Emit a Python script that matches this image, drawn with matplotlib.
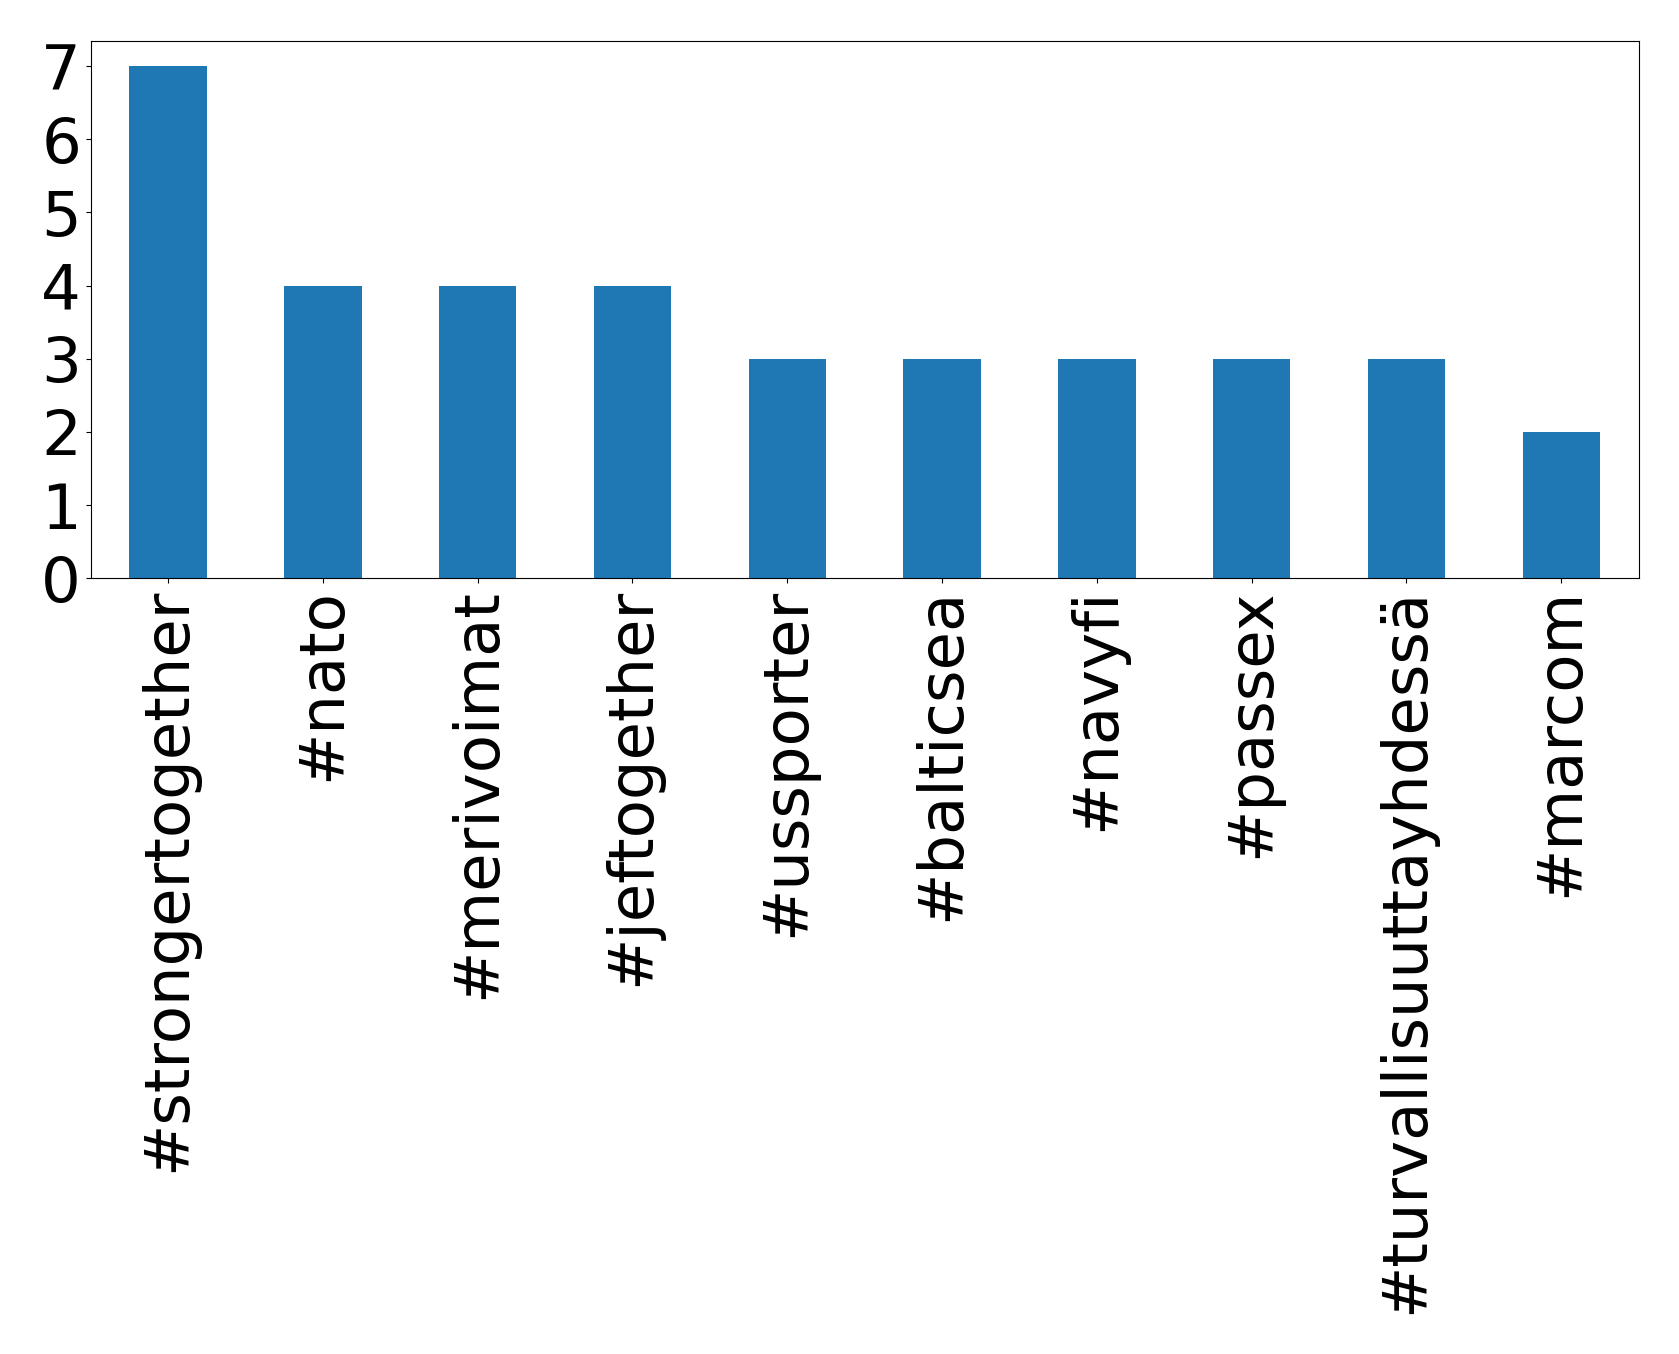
import matplotlib
matplotlib.use("Agg")
import matplotlib.pyplot as plt
import numpy as np

hashtags = ['#strongertogether', '#nato', '#merivoimat', '#jeftogether', '#ussporter',
            '#balticsea', '#navyfi', '#passex', '#turvallisuuttayhdessä', '#marcom']
counts = [7, 4, 4, 4, 3, 3, 3, 3, 3, 2]

fig = plt.figure(figsize=(16.79, 13.54), dpi=100)
ax = fig.add_subplot(111)
x = np.arange(len(hashtags))
ax.bar(x, counts, width=0.5, color='#1f77b4')
ax.set_xlim(-0.5, len(hashtags) - 0.5)
ax.set_ylim(0, 7.35)
ax.set_xticks(x)
ax.set_xticklabels(hashtags, rotation=90, fontsize=45)
ax.set_yticks(range(8))
ax.tick_params(axis='y', labelsize=45)
plt.subplots_adjust(left=0.054, right=0.976, top=0.970, bottom=0.573)
plt.savefig('out.png', dpi=100)
